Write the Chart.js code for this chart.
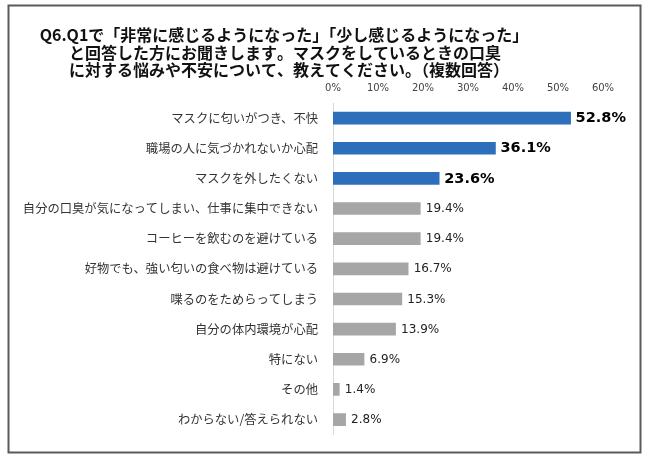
<!DOCTYPE html>
<html>
<head>
<meta charset="utf-8">
<script src="https://cdn.jsdelivr.net/npm/chart.js@4"></script>
<style>
  html, body { margin: 0; padding: 0; background: #fff; }
  #wrap { position: relative; width: 650px; height: 457px; }
</style>
</head>
<body>
<div id="wrap"><canvas id="c" width="650" height="457"></canvas></div>
<script>
const titleLines = [
  'Q6.Q1で「非常に感じるようになった」「少し感じるようになった」',
  'と回答した方にお聞きします。マスクをしているときの口臭',
  'に対する悩みや不安について、教えてください。（複数回答）'
];
const categories = [
  'マスクに匂いがつき、不快',
  '職場の人に気づかれないか心配',
  'マスクを外したくない',
  '自分の口臭が気になってしまい、仕事に集中できない',
  'コーヒーを飲むのを避けている',
  '好物でも、強い匂いの食べ物は避けている',
  '喋るのをためらってしまう',
  '自分の体内環境が心配',
  '特にない',
  'その他',
  'わからない/答えられない'
];
const values = [52.8, 36.1, 23.6, 19.4, 19.4, 16.7, 15.3, 13.9, 6.9, 1.4, 2.8];
const highlightCount = 3;
const tickLabels = ['0%', '10%', '20%', '30%', '40%', '50%', '60%'];

const BLUE = '#2E6FBC';
const GRAY = '#A6A6A6';
const barColors = values.map((v, i) => i < highlightCount ? BLUE : GRAY);

const framePlugin = {
  id: 'frame',
  beforeDraw(chart) {
    const ctx = chart.ctx;
    ctx.save();
    ctx.fillStyle = '#fff';
    ctx.fillRect(0, 0, chart.width, chart.height);
    ctx.strokeStyle = '#5a5a5a';
    ctx.lineWidth = 2;
    ctx.strokeRect(8.5, 5.5, 632, 447);
    ctx.restore();
  },
  afterDraw(chart) {
    const ctx = chart.ctx;
    ctx.save();
    if ('fontKerning' in ctx) ctx.fontKerning = 'none';
    ctx.fillStyle = '#111';
    ctx.font = 'bold 16px "Noto Sans CJK JP"';
    ctx.textAlign = 'center';
    ctx.textBaseline = 'middle';
    const ys = [35, 52.5, 70];
    const xs = [284, 285, 289];
    titleLines.forEach((t, i) => ctx.fillText(t, xs[i], ys[i]));
    ctx.restore();
  }
};

const valueLabels = {
  id: 'valueLabels',
  afterDatasetsDraw(chart) {
    const ctx = chart.ctx;
    const meta = chart.getDatasetMeta(0);
    ctx.save();
    ctx.textBaseline = 'middle';
    ctx.textAlign = 'left';
    meta.data.forEach((bar, i) => {
      const big = i < highlightCount;
      ctx.font = big ? 'bold 14.5px "DejaVu Sans"' : '12px "DejaVu Sans"';
      ctx.fillStyle = big ? '#000' : '#222';
      ctx.fillText(values[i].toFixed(1) + '%', bar.x + (big ? 5 : 5.5), bar.y + 0.5);
    });
    ctx.restore();
  }
};

new Chart(document.getElementById('c'), {
  type: 'bar',
  data: {
    labels: categories,
    datasets: [{
      data: values,
      backgroundColor: barColors,
      borderWidth: 0,
      barThickness: 12
    }]
  },
  options: {
    indexAxis: 'y',
    responsive: false,
    animation: false,
    devicePixelRatio: 1,
    layout: { padding: { top: 78, bottom: 20, right: 47, left: 0 } },
    plugins: {
      legend: { display: false },
      tooltip: { enabled: false },
      title: { display: false }
    },
    scales: {
      x: {
        position: 'top',
        min: 0,
        max: 60,
        grid: { display: false, drawTicks: false },
        border: { display: false },
        ticks: {
          stepSize: 10,
          padding: 9,
          color: '#444',
          font: { family: 'DejaVu Sans', size: 10 },
          callback: (v, i) => tickLabels[i]
        },
        afterFit(s) { s.height = 25; }
      },
      y: {
        grid: { display: false, drawTicks: false },
        border: { display: true, color: '#d9d9d9', width: 1 },
        ticks: {
          padding: 15,
          color: '#333',
          font: { family: 'Noto Sans CJK JP', size: 12.3 }
        },
        afterFit(s) { s.width = 333; }
      }
    }
  },
  plugins: [framePlugin, valueLabels]
});
</script>
</body>
</html>
